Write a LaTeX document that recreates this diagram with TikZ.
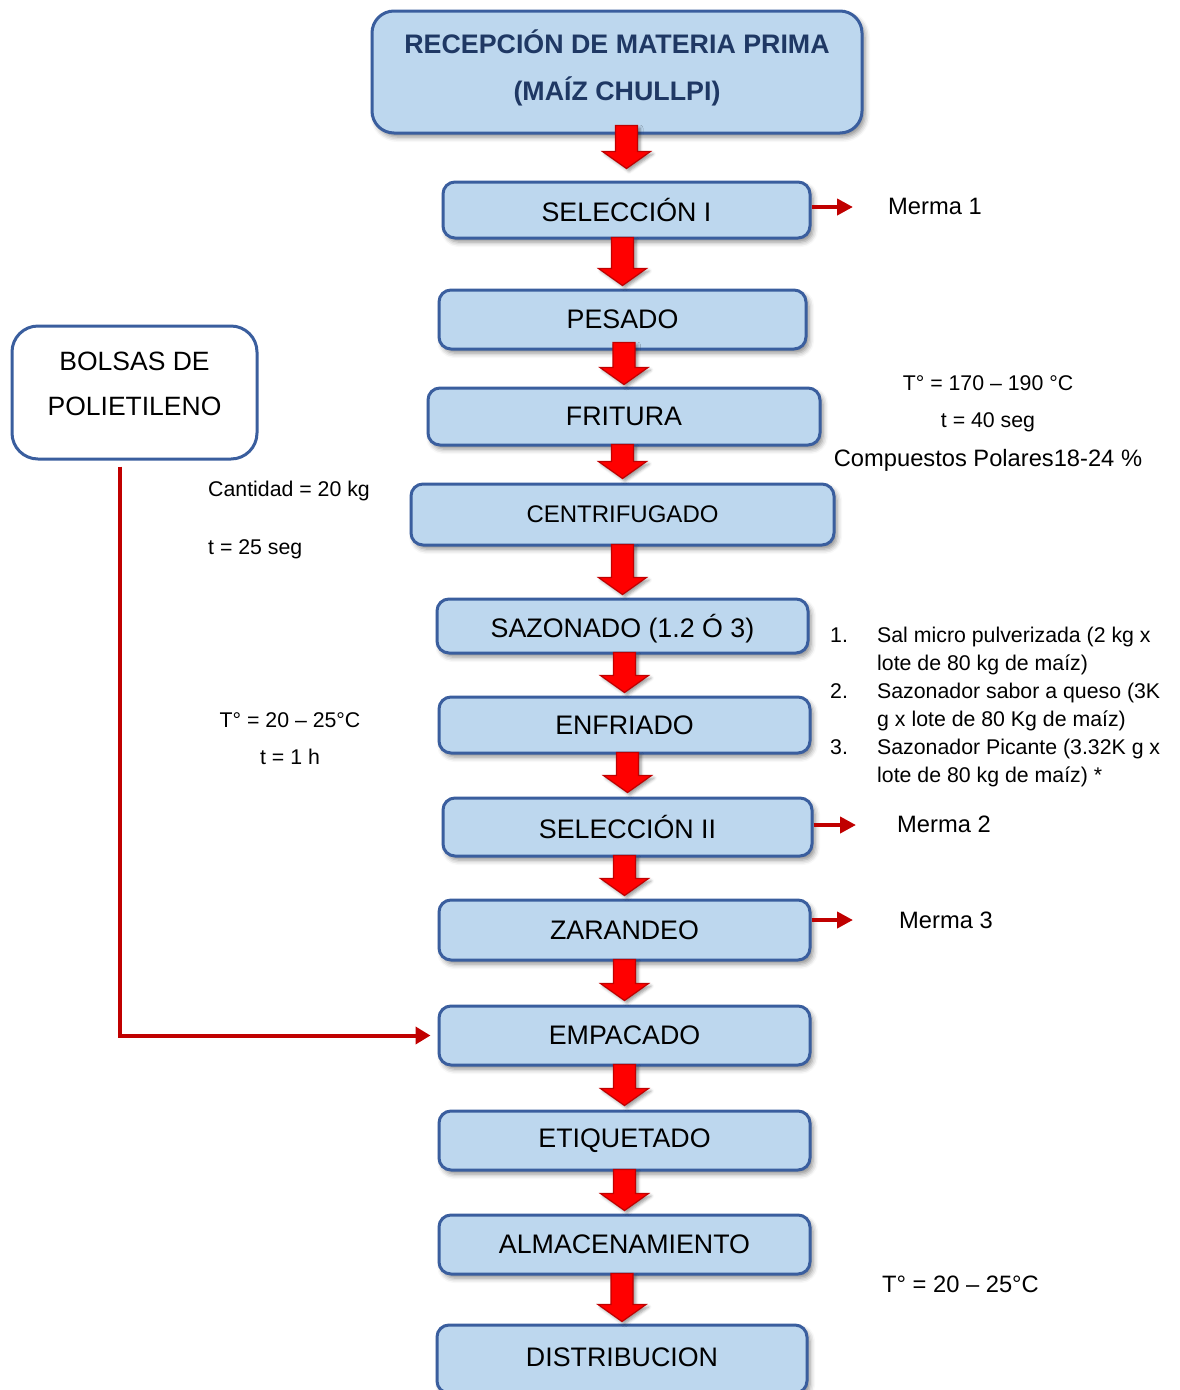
\documentclass[tikz,border=0pt]{standalone}
\usepackage{fontspec}
\setmainfont{Liberation Sans}
\usetikzlibrary{arrows.meta,calc,shadows.blur}
\definecolor{boxfill}{HTML}{BDD7EE}
\definecolor{boxline}{HTML}{3A5E9E}
\definecolor{titleblue}{HTML}{1F3864}
\definecolor{arrred}{HTML}{FF0000}
\definecolor{darkred}{HTML}{C00000}
\tikzset{
  procbox/.style={draw=boxline, fill=boxfill, line width=3pt, rounded corners=12pt,
    inner sep=0pt, align=center, font=\fontsize{26.8}{30}\selectfont,
    blur shadow={shadow xshift=3pt, shadow yshift=-4pt, shadow blur radius=5pt, shadow opacity=45}},
  whitebox/.style={draw=boxline, fill=white, line width=3pt, rounded corners=26pt, inner sep=0pt},
  titletext/.style={inner sep=0pt, align=center, text=titleblue, font=\fontsize{26.8}{47}\selectfont\bfseries},
  boxtext/.style={inner sep=0pt, align=center, font=\fontsize{26.5}{45}\selectfont},
  annot/.style={inner sep=0pt, font=\fontsize{21.3}{28}\selectfont},
  bigannot/.style={inner sep=0pt, font=\fontsize{23.7}{28}\selectfont},
  bigarrow/.style={fill=arrred, draw=darkred, line width=1.2pt, line join=miter,
    blur shadow={shadow xshift=2.5pt, shadow yshift=-2.5pt, shadow blur radius=3pt, shadow opacity=40}},
  sidearr/.style={draw=darkred, line width=4.5pt, -{Triangle[length=16pt,width=16pt]}},
  feedarr/.style={draw=darkred, line width=4pt, -{Triangle[length=15pt,width=17pt]}}
}
\newcommand{\flowarr}[4]{%
  \path[bigarrow] let \p1=([yshift=#3]#1.south), \p2=([yshift=#4]#2.north) in
    (\x2-11pt,\y1) -- (\x2+11pt,\y1) -- (\x2+11pt,\y2+17pt) -- (\x2+24pt,\y2+17pt)
    -- (\x2,\y2) -- (\x2-24pt,\y2+17pt) -- (\x2-11pt,\y2+17pt) -- cycle;}
\begin{document}
\begin{tikzpicture}[x=1pt,y=-1pt]
\useasboundingbox (0,0) rectangle (1179,1390);

% process boxes
\node[procbox, rounded corners=22pt, minimum width=490pt, minimum height=122pt] (top) at (617,72) {};
\node[titletext] (toptxt) at ([yshift=4pt]top.center) {RECEPCIÓN DE MATERIA PRIMA\\(MAÍZ CHULLPI)};
\node[procbox, minimum width=367pt, minimum height=56pt] (sel1) at (626.5,210) {SELECCIÓN I};
\node[procbox, minimum width=367pt, minimum height=59pt] (pesado) at (622.5,319.5) {PESADO};
\node[procbox, minimum width=392pt, minimum height=57pt] (fritura) at (624,416.5) {FRITURA};
\node[procbox, minimum width=423pt, minimum height=61pt, font=\fontsize{24}{28}\selectfont] (centri) at (622.5,514.5) {CENTRIFUGADO};
\node[procbox, minimum width=371pt, minimum height=54pt] (sazon) at (622.5,626) {\raisebox{-3pt}[\height][\depth]{SAZONADO (1.2 Ó 3)}};
\node[procbox, minimum width=371pt, minimum height=56pt] (enfri) at (624.5,725) {ENFRIADO};
\node[procbox, minimum width=369pt, minimum height=58pt] (sel2) at (627.5,827) {SELECCIÓN II};
\node[procbox, minimum width=371pt, minimum height=60pt] (zaran) at (624.5,930) {ZARANDEO};
\node[procbox, minimum width=371pt, minimum height=59pt] (empac) at (624.5,1035.5) {EMPACADO};
\node[procbox, minimum width=371pt, minimum height=59pt] (etiq) at (624.5,1140.5) {ETIQUETADO};
\node[procbox, minimum width=371pt, minimum height=59pt] (almac) at (624.5,1244.5) {ALMACENAMIENTO};
\node[procbox, minimum width=370pt, minimum height=68pt] (distri) at (622,1359) {\raisebox{2pt}[\height][\depth]{DISTRIBUCION}};

% packaging material box
\node[whitebox, minimum width=245pt, minimum height=133pt] (bolsas) at (134.5,392.5) {};
\node[boxtext] (bolsastxt) at ([yshift=9pt]bolsas.center) {BOLSAS DE\\POLIETILENO};

% main flow arrows
\flowarr{top}{sel1}{9pt}{12pt}
\flowarr{sel1}{pesado}{2pt}{3pt}
\flowarr{pesado}{fritura}{8pt}{2pt}
\flowarr{fritura}{centri}{2pt}{4pt}
\flowarr{centri}{sazon}{2pt}{3pt}
\flowarr{sazon}{enfri}{2pt}{3pt}
\flowarr{enfri}{sel2}{2pt}{4pt}
\flowarr{sel2}{zaran}{2pt}{3pt}
\flowarr{zaran}{empac}{2pt}{4pt}
\flowarr{empac}{etiq}{2pt}{4pt}
\flowarr{etiq}{almac}{2pt}{3pt}
\flowarr{almac}{distri}{2pt}{2pt}

% waste outputs
\coordinate (m1tip) at (853,207);
\coordinate (m2tip) at (856,825);
\coordinate (m3tip) at (853,920);
\draw[sidearr] (sel1.east |- m1tip) -- (m1tip);
\draw[sidearr] (sel2.east |- m2tip) -- (m2tip);
\draw[sidearr] (zaran.east |- m3tip) -- (m3tip);
\node[bigannot, anchor=base west] (merma1) at (888,214.4) {Merma 1};
\node[bigannot, anchor=base west] (merma2) at (897,832.4) {Merma 2};
\node[bigannot, anchor=base west] (merma3) at (899,928.4) {Merma 3};

% packaging feed line
\draw[feedarr] ([xshift=-14.5pt,yshift=-6pt]bolsas.south) |- ([xshift=-7pt]empac.west);

% annotations
\node[annot, anchor=base] (fritT) at (988,390.6) {T° = 170 – 190 °C};
\node[annot, anchor=base] (fritt) at (988,427.6) {t = 40 seg};
\node[bigannot, anchor=base] (fritc) at (988,466.5) {Compuestos Polares18-24 \%};
\node[annot, anchor=base west] (centq) at (208,496.6) {Cantidad = 20 kg};
\node[annot, anchor=base west] (centt) at (208,554.6) {t = 25 seg};
\node[annot, anchor=north west, align=left] (list) at (830,627)
  {\makebox[47pt][l]{1.}Sal micro pulverizada (2 kg x\\
   \hspace*{47pt}lote de 80 kg de maíz)\\
   \makebox[47pt][l]{2.}Sazonador sabor a queso (3K\\
   \hspace*{47pt}g x lote de 80 Kg de maíz)\\
   \makebox[47pt][l]{3.}Sazonador Picante (3.32K g x\\
   \hspace*{47pt}lote de 80 kg de maíz) *};
\node[annot, anchor=base] (enfT) at (290,727.6) {T° = 20 – 25°C};
\node[annot, anchor=base] (enft) at (290,764.6) {t = 1 h};
\node[bigannot, anchor=base west] (almT) at (882,1292.5) {T° = 20 – 25°C};
\end{tikzpicture}
\end{document}
